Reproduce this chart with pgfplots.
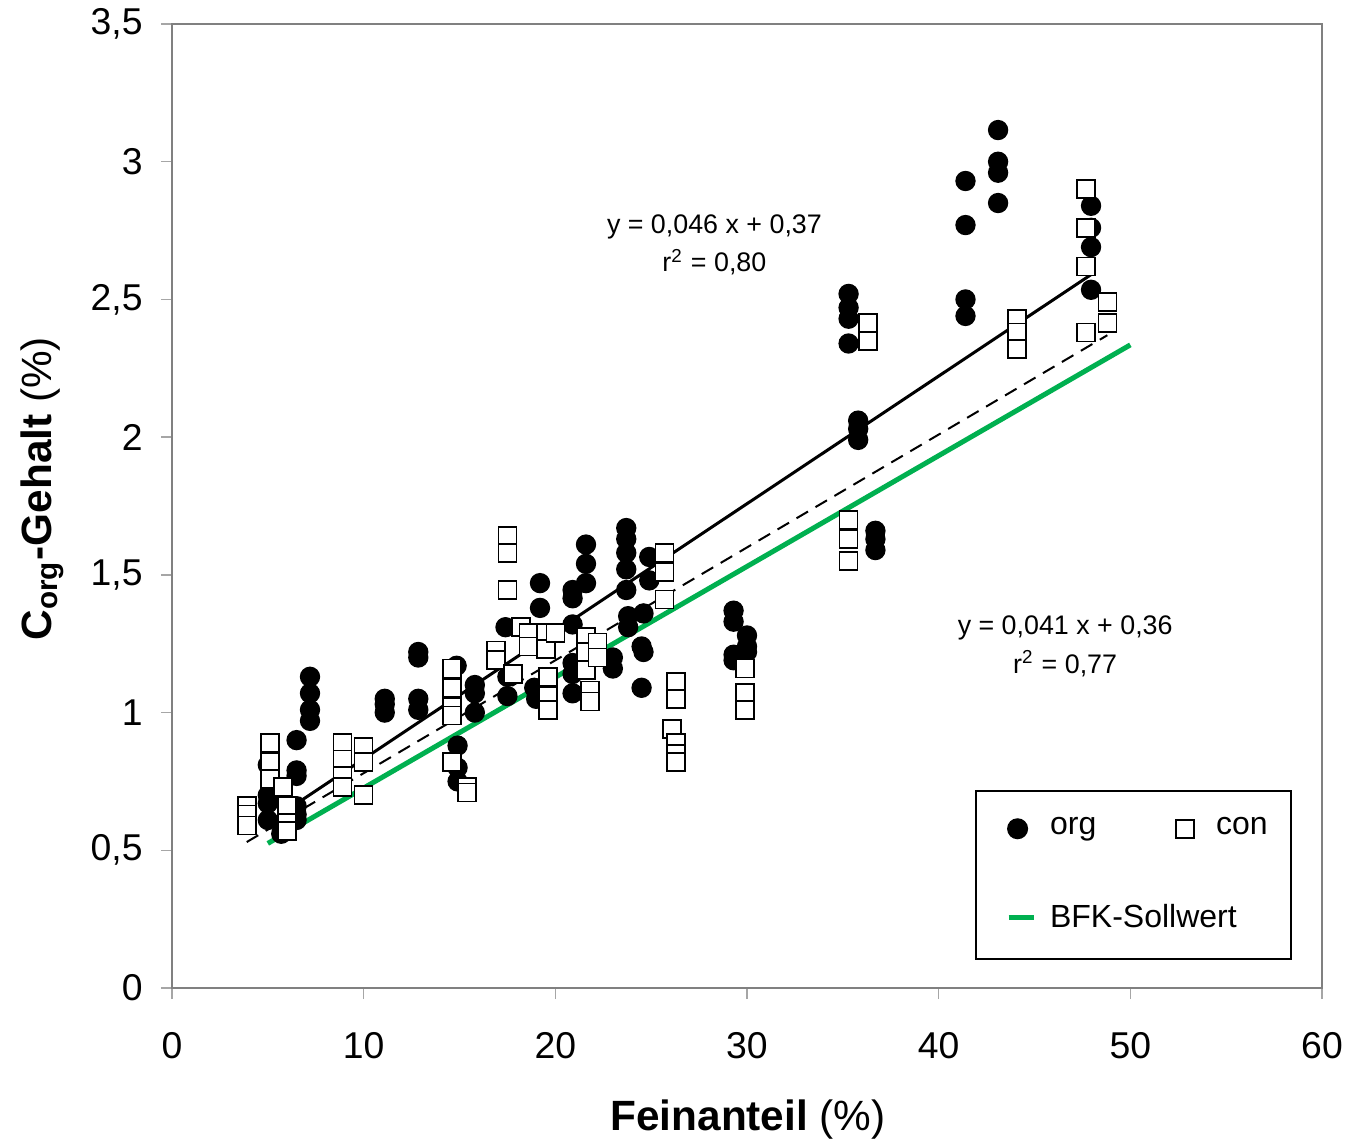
\documentclass[border=0pt]{standalone}
\usepackage{fontspec}
\setmainfont{Liberation Sans}
\usepackage{pgfplots}
\pgfplotsset{compat=1.18}
\definecolor{bfk}{RGB}{0,176,80}
\pgfplotsset{
  markleg/.style={legend image code/.code={\draw[##1] plot coordinates {(8.2pt,0pt)}; \path (0pt,0pt) (15pt,0pt);}},
  lineleg/.style={legend image code/.code={\draw[##1] (5.5pt,0pt) -- (13pt,0pt); \path (0pt,0pt) (15pt,0pt);}},
}
\begin{document}
\begin{tikzpicture}
\path[use as bounding box] (-51.6pt,-46.5pt) rectangle (352.2pt,296.4pt);
\begin{axis}[
 at={(0pt,0pt)}, anchor=south west,
 scale only axis, width=345pt, height=289.2pt,
 xmin=0, xmax=60, ymin=0, ymax=3.5,
 xtick={0,10,20,30,40,50,60},
 ytick={0,0.5,1,1.5,2,2.5,3,3.5},
 axis line style={draw=black!50, line width=0.5pt},
 tick style={draw=black!35, line width=0.4pt},
 major tick length=3.3pt,
 tick align=outside, xtick pos=bottom, ytick pos=left,
 /pgf/number format/use comma,
 /pgf/number format/assume math mode=true,
 ticklabel style={font=\fontsize{11.2}{13}\selectfont},
 xticklabel style={yshift=-6.5pt},
 yticklabel style={xshift=-2pt},
 xlabel={\textbf{Feinanteil} (\%)},
 xlabel style={at={(axis description cs:0.5009,-0.1369)}, anchor=center, font=\fontsize{12.7}{15}\selectfont},
 ylabel={\textbf{C\textsubscript{org}-Gehalt} (\%)},
 ylabel style={at={(axis description cs:-0.113,0.518)}, anchor=center, font=\fontsize{12.7}{15}\selectfont},
 legend columns=2,
 legend cell align=left,
 legend style={at={(axis cs:41.9,0.719)}, anchor=north west, draw=black, line width=0.6pt, fill=white,
   font=\fontsize{9.6}{11}\selectfont, inner xsep=3.5pt, inner ysep=6pt, row sep=15.2pt,
   /tikz/every odd column/.append style={column sep=0.2pt},
   /tikz/every even column/.append style={column sep=16.1pt}},
]
\addplot[only marks, mark=*, mark size=2.85pt, black, markleg]
coordinates {
(5.0,0.81)(5.0,0.70)(5.0,0.67)(5.0,0.61)(5.7,0.56)
(6.5,0.90)(6.5,0.79)(6.5,0.77)(6.5,0.66)(6.5,0.63)(6.5,0.61)
(7.2,1.13)(7.2,1.07)(7.2,1.01)(7.2,0.97)
(11.1,1.05)(11.1,1.03)(11.1,1.00)
(12.85,1.22)(12.85,1.20)(12.85,1.05)(12.85,1.01)
(14.85,1.17)(14.9,0.88)(14.9,0.80)(14.9,0.75)
(15.8,1.10)(15.8,1.07)(15.8,1.00)
(17.4,1.31)(17.5,1.13)(17.5,1.06)
(19.2,1.47)(19.2,1.38)(18.9,1.09)(19.0,1.05)
(20.9,1.445)(20.9,1.415)(20.9,1.32)(20.9,1.18)(20.9,1.14)(20.9,1.07)
(21.6,1.61)(21.6,1.54)(21.6,1.47)
(23.0,1.20)(23.0,1.16)
(23.7,1.67)(23.7,1.63)(23.7,1.58)(23.7,1.52)(23.7,1.445)(23.8,1.35)(23.8,1.31)
(24.6,1.36)(24.5,1.24)(24.6,1.22)(24.5,1.09)
(24.9,1.565)(24.9,1.48)
(29.3,1.37)(29.3,1.33)(29.3,1.21)(29.3,1.19)
(30.0,1.28)(30.0,1.24)(30.0,1.22)
(35.3,2.52)(35.3,2.47)(35.3,2.43)(35.3,2.34)
(35.8,2.06)(35.8,2.03)(35.8,1.99)
(36.7,1.66)(36.7,1.63)(36.7,1.59)
(41.4,2.93)(41.4,2.77)(41.4,2.50)(41.4,2.44)
(43.1,3.115)(43.1,3.0)(43.1,2.96)(43.1,2.85)
(47.95,2.84)(47.95,2.76)(47.95,2.69)(47.95,2.535)
};
\addlegendentry{org}
\addplot[only marks, mark=square*, mark size=2.7pt, draw=black, fill=white, mark options={line width=0.5pt, fill=white}, markleg]
coordinates {
(3.9,0.66)(3.9,0.63)(3.9,0.59)
(5.1,0.89)(5.1,0.82)(5.1,0.76)
(5.8,0.73)(6.0,0.66)(6.0,0.60)(6.0,0.57)
(8.9,0.89)(8.9,0.83)(8.9,0.77)(8.9,0.73)
(10.0,0.875)(10.0,0.82)(10.0,0.70)
(14.6,1.16)(14.6,1.09)(14.6,1.02)(14.6,0.99)(14.6,0.82)
(15.4,0.73)(15.4,0.71)
(16.9,1.225)(16.9,1.19)
(17.5,1.64)(17.5,1.58)(17.5,1.445)
(17.8,1.14)
(18.2,1.31)(18.6,1.29)(18.6,1.24)
(19.5,1.29)(19.5,1.23)(20.0,1.29)
(19.6,1.13)(19.6,1.06)(19.6,1.01)
(21.6,1.275)(21.6,1.22)(21.6,1.155)
(22.2,1.255)(22.2,1.20)
(21.8,1.08)(21.8,1.04)
(25.7,1.58)(25.7,1.51)(25.7,1.41)
(26.3,1.11)(26.3,1.05)
(26.1,0.94)(26.3,0.89)(26.3,0.85)(26.3,0.82)
(29.9,1.16)(29.9,1.07)(29.9,1.01)
(35.3,1.70)(35.3,1.63)(35.3,1.55)
(36.3,2.415)(36.3,2.35)
(44.1,2.43)(44.1,2.38)(44.1,2.32)
(47.7,2.90)(47.7,2.76)(47.7,2.62)(47.7,2.38)
(48.8,2.49)(48.8,2.415)
};
\addlegendentry{con\hspace*{1.5pt}}
\addplot[black, line width=0.9pt, forget plot] coordinates {(5.0,0.60)(47.95,2.59)};
\addplot[black, line width=0.6pt, dash pattern=on 4pt off 2.6pt, forget plot] coordinates {(3.9,0.53)(48.8,2.37)};
\addplot[bfk, line width=1.5pt, lineleg] coordinates {(5.0,0.525)(50.0,2.335)};
\addlegendentry{\rlap{BFK-Sollwert}}
\node[font=\fontsize{8.05}{10}\selectfont, align=center] at (axis cs:28.3,2.698) {y = 0,046 x + 0,37\\[1.5pt]r\textsuperscript{2} = 0,80};
\node[font=\fontsize{8.05}{10}\selectfont, align=center] at (axis cs:46.6,1.241) {y = 0,041 x + 0,36\\[1.5pt]r\textsuperscript{2} = 0,77};
\end{axis}
\end{tikzpicture}
\end{document}
